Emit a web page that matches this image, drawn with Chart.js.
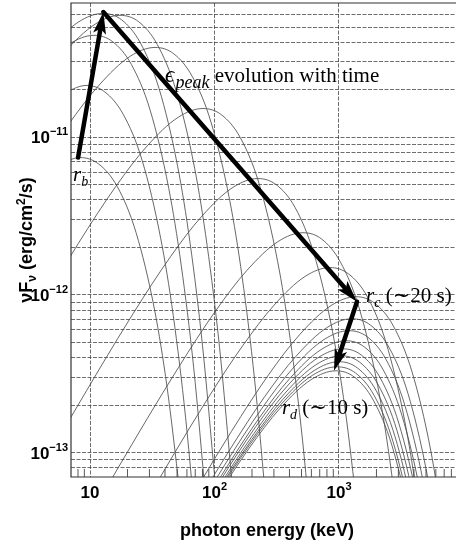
<!DOCTYPE html>
<html>
<head>
<meta charset="utf-8">
<script src="https://cdn.jsdelivr.net/npm/chart.js@4.4.1/dist/chart.umd.min.js"></script>
<style>
  html, body { margin: 0; padding: 0; background: #fff; }
  canvas { display: block; }
</style>
</head>
<body>
<canvas id="chart" width="456" height="546"></canvas>
<script>
/* ── nuFnu spectra, photon energy (keV) vs flux (erg/cm2/s) ── */

// rising phase (r_b up to the peak)
const spec01 = [[5.24, 6.53e-12], [8.31, 7.43e-12], [11.74, 6.76e-12], [16.58, 4.85e-12], [23.4, 2.49e-12], [33.1, 7.93e-13], [41.6, 2.59e-13], [52.4, 5.80e-14]];
const spec02 = [[5.86, 1.872e-11], [9.29, 2.13e-11], [13.13, 1.938e-11], [18.53, 1.391e-11], [26.2, 7.14e-12], [37.0, 2.27e-12], [46.6, 7.41e-13], [58.6, 1.66e-13], [73.8, 2.32e-14]];
const spec03 = [[3.82, 2.56e-11], [6.80, 3.89e-11], [10.77, 4.43e-11], [15.22, 4.03e-11], [21.5, 2.89e-11], [30.4, 1.484e-11], [42.9, 4.73e-12], [54.0, 1.542e-12], [68.0, 3.46e-13], [85.5, 4.83e-14]];
const spec04 = [[4.51, 3.53e-11], [8.01, 5.36e-11], [12.7, 6.10e-11], [17.95, 5.55e-11], [25.3, 3.98e-11], [35.8, 2.04e-11], [50.6, 6.51e-12], [63.7, 2.12e-12], [80.1, 4.76e-13], [100.9, 6.65e-14]];

// peak moving to higher energy (peak down to r_c)
const spec05 = [[3.47, 1.904e-11], [6.18, 3.43e-11], [10.98, 5.21e-11], [17.4, 5.93e-11], [24.6, 5.40e-11], [34.7, 3.87e-11], [49.0, 1.987e-11], [69.3, 6.33e-12], [87.2, 2.06e-12], [109.8, 4.63e-13], [138.2, 6.46e-14]];
const spec06 = [[3.33, 5.19e-12], [6.64, 1.191e-11], [11.82, 2.14e-11], [21.0, 3.26e-11], [33.3, 3.71e-11], [47.1, 3.38e-11], [66.4, 2.42e-11], [93.8, 1.243e-11], [132.6, 3.96e-12], [166.9, 1.291e-12], [210, 2.89e-13], [264.5, 4.04e-14]];
const spec07 = [[2.55, 4.68e-13], [8.08, 2.13e-12], [16.12, 4.88e-12], [28.7, 8.79e-12], [51.0, 1.337e-11], [80.8, 1.521e-11], [114.2, 1.384e-11], [161.2, 9.93e-12], [227.7, 5.10e-12], [321.7, 1.623e-12], [405, 5.29e-13], [510, 1.186e-13], [642, 1.658e-14]];
const spec08 = [[2.23, 3.47e-14], [7.05, 1.685e-13], [22.3, 7.66e-13], [44.5, 1.756e-12], [79.2, 3.16e-12], [140.7, 4.81e-12], [223, 5.47e-12], [315, 4.98e-12], [445, 3.57e-12], [628, 1.832e-12], [888, 5.84e-13], [1118, 1.904e-13], [1407, 4.27e-14]];
const spec09 = [[5.14, 1.572e-14], [16.24, 7.64e-14], [51.4, 3.47e-13], [102.5, 7.96e-13], [182.5, 1.433e-12], [324, 2.18e-12], [514, 2.48e-12], [726, 2.26e-12], [1025, 1.619e-12], [1448, 8.31e-13], [2046, 2.65e-13], [2576, 8.63e-14], [3243, 1.934e-14]];
const spec10 = [[8.47, 9.45e-15], [26.8, 4.59e-14], [84.7, 2.09e-13], [169, 4.78e-13], [301, 8.61e-13], [534, 1.31e-12], [847, 1.49e-12], [1197, 1.356e-12], [1690, 9.73e-13], [2387, 4.99e-13], [3372, 1.59e-13], [4245, 5.19e-14], [5345, 1.162e-14]];
const spec11 = [[13.69, 6.18e-15], [43.3, 3.00e-14], [136.9, 1.364e-13], [273, 3.13e-13], [486, 5.63e-13], [864, 8.56e-13], [1369, 9.74e-13], [1934, 8.86e-13], [2731, 6.36e-13], [3858, 3.26e-13], [5450, 1.039e-13], [6861, 3.39e-14]];

// decay after r_c (down to r_d)
const spec12 = [[12.71, 4.48e-15], [40.2, 2.17e-14], [127.1, 9.88e-14], [253.6, 2.27e-13], [451, 4.08e-13], [802, 6.21e-13], [1271, 7.06e-13], [1796, 6.42e-13], [2536, 4.61e-13], [3582, 2.37e-13], [5060, 7.53e-14], [6370, 2.46e-14]];
const spec13 = [[12.02, 3.76e-15], [38.0, 1.826e-14], [120.2, 8.30e-14], [239.8, 1.904e-13], [427, 3.43e-13], [758, 5.21e-13], [1202, 5.93e-13], [1698, 5.40e-13], [2398, 3.87e-13], [3387, 1.987e-13], [4785, 6.33e-14], [6024, 2.06e-14]];
const spec14 = [[11.38, 3.25e-15], [36.0, 1.577e-14], [113.8, 7.17e-14], [227, 1.644e-13], [404, 2.96e-13], [718, 4.50e-13], [1138, 5.12e-13], [1608, 4.66e-13], [2270, 3.34e-13], [3207, 1.715e-13], [4530, 5.46e-14], [5704, 1.782e-14]];
const spec15 = [[10.76, 2.88e-15], [34.0, 1.401e-14], [107.6, 6.37e-14], [214.7, 1.461e-13], [382, 2.63e-13], [679, 4.00e-13], [1076, 4.55e-13], [1520, 4.14e-13], [2147, 2.97e-13], [3032, 1.524e-13], [4284, 4.85e-14], [5393, 1.583e-14]];
const spec16 = [[10.38, 2.61e-15], [32.8, 1.266e-14], [103.8, 5.75e-14], [207.1, 1.319e-13], [368, 2.38e-13], [655, 3.61e-13], [1038, 4.11e-13], [1467, 3.74e-13], [2071, 2.68e-13], [2925, 1.377e-13], [4132, 4.39e-14], [5202, 1.43e-14]];
const spec17 = [[10, 2.39e-15], [31.6, 1.161e-14], [100, 5.28e-14], [199.5, 1.21e-13], [355, 2.18e-13], [631, 3.31e-13], [1000, 3.77e-13], [1413, 3.43e-13], [1995, 2.46e-13], [2818, 1.263e-13], [3981, 4.02e-14], [5012, 1.312e-14]];
const spec18 = [[9.64, 2.22e-15], [30.5, 1.078e-14], [96.4, 4.90e-14], [192.3, 1.124e-13], [342, 2.02e-13], [608, 3.08e-13], [964, 3.50e-13], [1362, 3.19e-13], [1923, 2.29e-13], [2717, 1.173e-13], [3838, 3.73e-14], [4832, 1.218e-14]];
const spec19 = [[9.46, 2.09e-15], [29.9, 1.016e-14], [94.6, 4.62e-14], [188.7, 1.059e-13], [336, 1.907e-13], [597, 2.90e-13], [946, 3.30e-13], [1337, 3.00e-13], [1887, 2.15e-13], [2666, 1.106e-13], [3766, 3.52e-14], [4741, 1.148e-14]];

const spectra = [spec01, spec02, spec03, spec04, spec05, spec06, spec07, spec08, spec09, spec10,
                 spec11, spec12, spec13, spec14, spec15, spec16, spec17, spec18, spec19];

// path of the peak: r_b -> maximum -> r_c -> r_d
const peakPath = [[8.01, 7.43e-12], [12.79, 6.22e-11], [1395, 9.05e-13], [912, 3.30e-13]];

// axes
const X_MIN = 7.03, X_MAX = 8710;
const Y_MIN = 7.0e-14, Y_MAX = 7.1e-11;
const xGridTicks = [10, 100, 1000];
const xMinorTicks = [8, 9, 20, 30, 40, 50, 60, 70, 80, 90, 200, 300, 400, 500, 600, 700, 800, 900,
                     2000, 3000, 4000, 5000, 6000, 7000, 8000];
const yGridTicks = [8e-14, 9e-14,
                    1e-13, 2e-13, 3e-13, 4e-13, 5e-13, 6e-13, 7e-13, 8e-13, 9e-13,
                    1e-12, 2e-12, 3e-12, 4e-12, 5e-12, 6e-12, 7e-12, 8e-12, 9e-12,
                    1e-11, 2e-11, 3e-11, 4e-11, 5e-11, 6e-11];
const xLabelValues = [10, 100, 1000];
const xLabelExps = ['', '2', '3'];
const yLabelValues = [1e-11, 1e-12, 1e-13];
const yLabelExps = ['\u221211', '\u221212', '\u221213'];

const SANS = '"Liberation Sans", Arial, sans-serif';
const SERIF = '"Liberation Serif", "DejaVu Serif", serif';

function drawPow(ctx, exp, x, y, align, expRise) {
    ctx.font = `bold 17px ${SANS}`;
    const wb = ctx.measureText('10').width;
    ctx.font = `bold 11px ${SANS}`;
    const we = exp ? ctx.measureText(exp).width : 0;
    const x0 = align === 'right' ? x - wb - we : x - (wb + we) / 2;
    ctx.font = `bold 17px ${SANS}`;
    ctx.fillText('10', x0, y);
    if (exp) {
        ctx.font = `bold 11px ${SANS}`;
        ctx.fillText(exp, x0 + wb, y - expRise);
    }
}

// runs: [text, font, baseline shift]
function drawRuns(ctx, runs, x, y) {
    let cx = x;
    runs.forEach(([t, font, dy]) => {
        ctx.font = font;
        ctx.fillText(t, cx, y + dy);
        cx += ctx.measureText(t).width;
    });
    return cx - x;
}

function runsWidth(ctx, runs) {
    return runs.reduce((w, [t, font]) => { ctx.font = font; return w + ctx.measureText(t).width; }, 0);
}

function drawArrow(ctx, x0, y0, x1, y1) {
    const len = Math.hypot(x1 - x0, y1 - y0);
    const ux = (x1 - x0) / len, uy = (y1 - y0) / len;
    const head = 22, half = 6.5;
    const bx = x1 - ux * head, by = y1 - uy * head;
    ctx.lineWidth = 4.5;
    ctx.lineCap = 'round';
    ctx.beginPath();
    ctx.moveTo(x0, y0);
    ctx.lineTo(bx + ux * 4, by + uy * 4);
    ctx.stroke();
    ctx.beginPath();
    ctx.moveTo(x1, y1);
    ctx.lineTo(bx - uy * half, by + ux * half);
    ctx.lineTo(bx + ux * 5, by + uy * 5);
    ctx.lineTo(bx + uy * half, by - ux * half);
    ctx.closePath();
    ctx.fill();
}

const overlay = {
    id: 'overlay',
    afterDatasetsDraw(chart) {
        const { ctx, chartArea: a, scales: { x, y } } = chart;
        ctx.save();
        ctx.setLineDash([]);

        // frame (right side lies outside the picture)
        ctx.strokeStyle = '#333';
        ctx.lineWidth = 1.2;
        ctx.beginPath();
        ctx.moveTo(a.right + 2, a.top);
        ctx.lineTo(a.left, a.top);
        ctx.lineTo(a.left, a.bottom);
        ctx.lineTo(a.right + 2, a.bottom);
        ctx.stroke();

        // inward minor ticks on the energy axis
        ctx.lineWidth = 0.9;
        ctx.strokeStyle = '#444';
        xMinorTicks.forEach((v) => {
            const px = x.getPixelForValue(v);
            if (px <= a.left || px >= a.right) return;
            ctx.beginPath();
            ctx.moveTo(px, a.bottom);
            ctx.lineTo(px, a.bottom - 8);
            ctx.stroke();
        });

        // peak evolution arrows
        ctx.strokeStyle = '#000';
        ctx.fillStyle = '#000';
        for (let i = 0; i < peakPath.length - 1; i++) {
            const [e0, f0] = peakPath[i];
            const [e1, f1] = peakPath[i + 1];
            drawArrow(ctx, x.getPixelForValue(e0), y.getPixelForValue(f0),
                      x.getPixelForValue(e1), y.getPixelForValue(f1));
        }

        // annotations
        const big = `21px ${SERIF}`, bigIt = `italic 21px ${SERIF}`;
        const subIt = `italic 14px ${SERIF}`;
        ctx.textAlign = 'left';
        ctx.textBaseline = 'alphabetic';
        drawRuns(ctx, [['r', bigIt, 0], ['b', subIt, 5]], x.getPixelForValue(7.30), y.getPixelForValue(5.24e-12));
        drawRuns(ctx, [['\u03f5', `italic 23px ${SERIF}`, 0], [' ', `5px ${SERIF}`, 0],
                       ['peak', `italic 18px ${SERIF}`, 6], [' evolution with time', big, 0]],
                 x.getPixelForValue(40.0), y.getPixelForValue(2.225e-11));
        drawRuns(ctx, [['r', bigIt, 0], ['c', subIt, 5], [' (\u223c20 s)', big, 0]],
                 x.getPixelForValue(1648), y.getPixelForValue(9.05e-13));
        drawRuns(ctx, [['r', bigIt, 0], ['d', subIt, 5], [' (\u223c10 s)', big, 0]],
                 x.getPixelForValue(348), y.getPixelForValue(1.76e-13));
        ctx.restore();
    },
    afterDraw(chart) {
        const { ctx, chartArea: a, scales: { x, y } } = chart;
        ctx.save();
        ctx.fillStyle = '#000';
        ctx.textAlign = 'left';
        ctx.textBaseline = 'alphabetic';

        xLabelValues.forEach((v, i) => drawPow(ctx, xLabelExps[i], x.getPixelForValue(v), a.bottom + 21, 'center', 8));
        yLabelValues.forEach((v, i) => drawPow(ctx, yLabelExps[i], a.left - 3, y.getPixelForValue(v) + 6, 'right', 8));

        // x title
        ctx.font = `bold 18px ${SANS}`;
        ctx.textAlign = 'center';
        ctx.fillText('photon energy (keV)', 267, 536);

        // y title, rotated
        ctx.textAlign = 'left';
        const runs = [['\u03bdF', `bold 18px ${SANS}`, 0], ['\u03bd', `bold 12px ${SANS}`, 4],
                      [' (erg/cm', `bold 18px ${SANS}`, 0], ['2', `bold 12px ${SANS}`, -7],
                      ['/s)', `bold 18px ${SANS}`, 0]];
        const w = runsWidth(ctx, runs);
        ctx.translate(32, (a.top + a.bottom) / 2);
        ctx.rotate(-Math.PI / 2);
        drawRuns(ctx, runs, -w / 2, 0);
        ctx.restore();
    },
};

const gridStyle = { color: '#3c3c3c', lineWidth: 0.75, drawTicks: false };

new Chart(document.getElementById('chart'), {
    type: 'line',
    data: {
        datasets: spectra.map((s) => ({
            data: s.map(([e, f]) => ({ x: e, y: f })),
            borderColor: '#4d4d4d',
            borderWidth: 0.85,
            pointRadius: 0,
            fill: false,
            cubicInterpolationMode: 'monotone',
        })),
    },
    options: {
        responsive: false,
        animation: false,
        events: [],
        layout: { padding: { left: 71, top: 3, right: 0, bottom: 69 } },
        plugins: { legend: { display: false }, tooltip: { enabled: false } },
        scales: {
            x: {
                type: 'logarithmic',
                min: X_MIN,
                max: X_MAX,
                afterBuildTicks: (s) => { s.ticks = xGridTicks.map((v) => ({ value: v })); },
                ticks: { display: false },
                grid: gridStyle,
                border: { display: false, dash: [4, 1.5] },
            },
            y: {
                type: 'logarithmic',
                min: Y_MIN,
                max: Y_MAX,
                afterBuildTicks: (s) => { s.ticks = yGridTicks.map((v) => ({ value: v })); },
                ticks: { display: false },
                grid: gridStyle,
                border: { display: false, dash: [4, 1.5] },
            },
        },
    },
    plugins: [overlay],
});
</script>
</body>
</html>
